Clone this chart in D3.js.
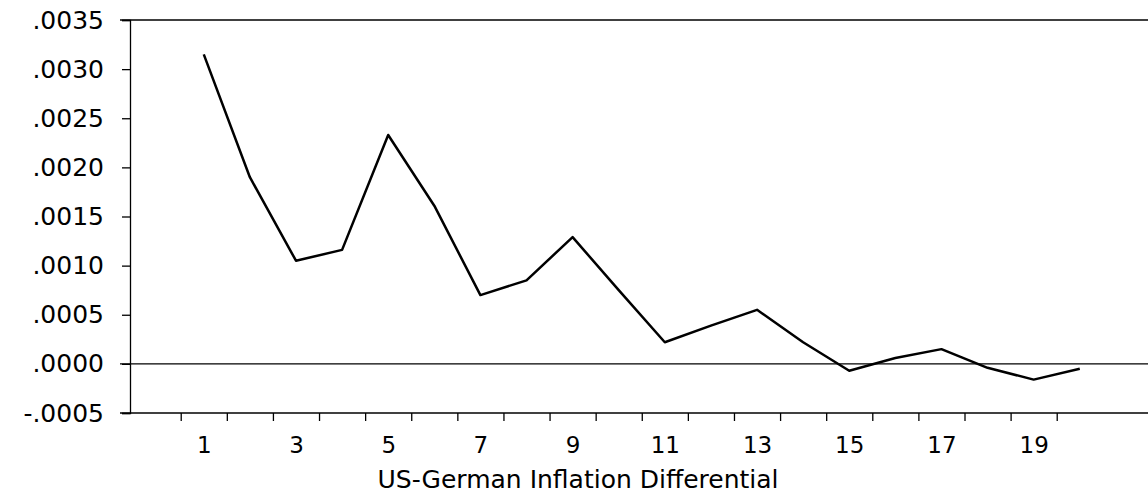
<!DOCTYPE html>
<html>
<head>
<meta charset="utf-8">
<script src="https://cdn.jsdelivr.net/npm/d3@7"></script>
<style>
  html, body { margin: 0; padding: 0; background: #fff; }
  svg { display: block; }
  text { font-family: "DejaVu Sans", sans-serif; fill: #000; }
</style>
</head>
<body>
<svg id="chart" width="1148" height="498"></svg>
<script>
const periods = d3.range(1, 21);
const values = [0.00315, 0.00190, 0.00105, 0.00116, 0.00233, 0.00161, 0.00070, 0.00085, 0.00129, 0.00075,
                0.00022, 0.00039, 0.00055, 0.00022, -0.00007, 0.00006, 0.00015, -0.00004, -0.00016, -0.00005];
const yTicks = [-0.0005, 0, 0.0005, 0.0010, 0.0015, 0.0020, 0.0025, 0.0030, 0.0035];
const xLabels = [1, 3, 5, 7, 9, 11, 13, 15, 17, 19];
const xTickMarks = d3.range(0.5, 20, 1);
const title = "US-German Inflation Differential";

const svg = d3.select("#chart");
const mLeft = 130, mRight = 1148, mTop = 20, mBottom = 413;

const x = d3.scaleLinear().domain([-0.6, 21.48]).range([mLeft, mRight]);
const y = d3.scaleLinear().domain([-0.0005, 0.0035]).range([mBottom, mTop]);

const fmt = v => {
  const s = Math.abs(v).toFixed(4).replace(/^0/, "");
  return (v < 0 ? "-" : "") + s;
};

// Frame lines
svg.append("line").attr("x1", 120).attr("x2", mRight).attr("y1", y(0.0035)).attr("y2", y(0.0035))
  .attr("stroke", "#000").attr("stroke-width", 1.5);
svg.append("line").attr("x1", 120).attr("x2", mRight).attr("y1", y(-0.0005)).attr("y2", y(-0.0005))
  .attr("stroke", "#000").attr("stroke-width", 1.5);
svg.append("line").attr("x1", 120).attr("x2", mRight).attr("y1", y(0)).attr("y2", y(0))
  .attr("stroke", "#000").attr("stroke-width", 1.3);

// Y axis
const yAxis = d3.axisLeft(y).tickValues(yTicks).tickFormat(fmt).tickSize(8).tickPadding(18);
const gy = svg.append("g").attr("transform", `translate(${mLeft},0)`).call(yAxis);
gy.select(".domain").attr("stroke", "#000").attr("stroke-width", 1.3);
gy.selectAll(".tick line").attr("stroke", "#000").attr("stroke-width", 1.3);
gy.selectAll(".tick text").style("font-family", "'DejaVu Sans', sans-serif").style("font-size", "25px")
  .attr("fill", "#000");

// X axis tick marks (at half-units)
const xAxisMarks = d3.axisBottom(x).tickValues(xTickMarks).tickFormat("").tickSize(8);
const gx = svg.append("g").attr("transform", `translate(0,${mBottom})`).call(xAxisMarks);
gx.select(".domain").remove();
gx.selectAll(".tick line").attr("stroke", "#000").attr("stroke-width", 1.3);

// X labels
const xAxisLabels = d3.axisBottom(x).tickValues(xLabels).tickFormat(d3.format("d")).tickSize(0).tickPadding(24);
const gxl = svg.append("g").attr("transform", `translate(0,${mBottom})`).call(xAxisLabels);
gxl.select(".domain").remove();
gxl.selectAll(".tick text").style("font-family", "'DejaVu Sans', sans-serif").style("font-size", "23px")
  .attr("fill", "#000");

// Title
svg.append("text").attr("x", 578).attr("y", 488).attr("text-anchor", "middle")
  .style("font-size", "25px").text(title);

// Line
const line = d3.line().x((d, i) => x(periods[i])).y(d => y(d));
svg.append("path").datum(values).attr("d", line)
  .attr("fill", "none").attr("stroke", "#000").attr("stroke-width", 2.5).attr("stroke-linejoin", "round");
</script>
</body>
</html>
